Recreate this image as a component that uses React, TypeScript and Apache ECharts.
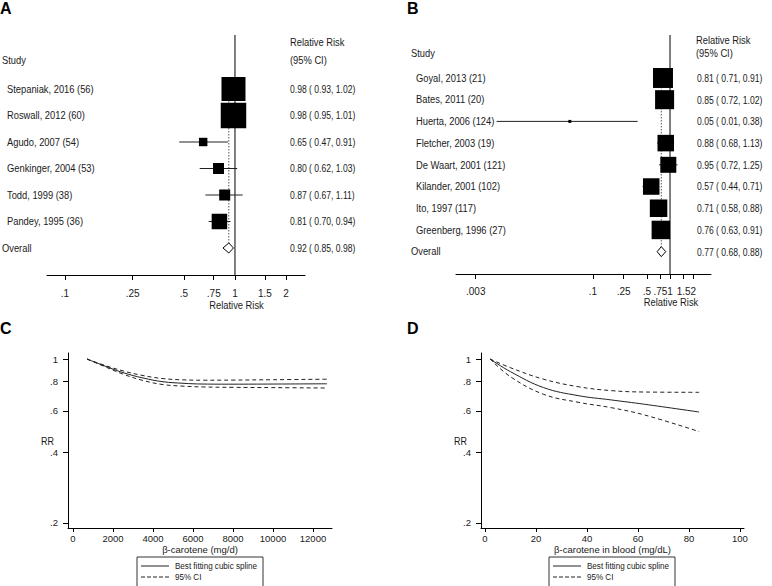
import React, { useEffect, useRef } from "react";
import * as echarts from "echarts";

// ---------- Panel A data ----------
const studiesA = [
  "Stepaniak, 2016 (56)",
  "Roswall, 2012 (60)",
  "Agudo, 2007 (54)",
  "Genkinger, 2004 (53)",
  "Todd, 1999 (38)",
  "Pandey, 1995 (36)",
];
const rrA = [0.98, 0.98, 0.65, 0.8, 0.87, 0.81];
const loA = [0.93, 0.95, 0.47, 0.62, 0.67, 0.7];
const hiA = [1.02, 1.01, 0.91, 1.03, 1.11, 0.94];
const weightA = [32.4, 36.5, 4.0, 6.8, 6.8, 13.5];
const overallA = [0.92, 0.85, 0.98];
const ticksA = [0.1, 0.25, 0.5, 0.75, 1, 1.5, 2];

// ---------- Panel B data ----------
const studiesB = [
  "Goyal, 2013 (21)",
  "Bates, 2011 (20)",
  "Huerta, 2006 (124)",
  "Fletcher, 2003 (19)",
  "De Waart, 2001 (121)",
  "Kilander, 2001 (102)",
  "Ito, 1997 (117)",
  "Greenberg, 1996 (27)",
];
const rrB = [0.81, 0.85, 0.05, 0.88, 0.95, 0.57, 0.71, 0.76];
const loB = [0.71, 0.72, 0.0056, 0.68, 0.72, 0.44, 0.58, 0.63];
const hiB = [0.91, 1.02, 0.38, 1.13, 1.25, 0.71, 0.88, 0.91];
const weightB = [18.0, 16.3, 0.4, 12.3, 11.5, 12.3, 13.8, 15.4];
const overallB = [0.77, 0.68, 0.88];
const ticksB = [0.003, 0.1, 0.25, 0.5, 0.75, 1, 1.5, 2];

// ---------- Panel C data ----------
const doseC = [700, 1500, 2500, 3500, 4500, 5500, 6500, 8000, 10000, 12700];
const rrC = [1.0, 0.94, 0.875, 0.83, 0.8, 0.788, 0.782, 0.781, 0.782, 0.784];
const upperC = [1.0, 0.945, 0.89, 0.85, 0.825, 0.815, 0.812, 0.813, 0.816, 0.82];
const lowerC = [1.0, 0.935, 0.862, 0.81, 0.778, 0.766, 0.76, 0.757, 0.755, 0.752];
const xTicksC = [0, 2000, 4000, 6000, 8000, 10000, 12000];

// ---------- Panel D data ----------
const doseD = [2, 10, 23, 36.5, 49.5, 62.6, 84];
const rrD = [1.0, 0.883, 0.755, 0.698, 0.669, 0.641, 0.594];
const upperD = [1.0, 0.918, 0.82, 0.762, 0.733, 0.723, 0.721];
const lowerD = [1.0, 0.84, 0.707, 0.654, 0.62, 0.577, 0.49];
const xTicksD = [0, 20, 40, 60, 80, 100];

const rrTicks = [0.2, 0.4, 0.6, 0.8, 1];

// ---------- helpers ----------
const FONT = '"Liberation Sans", Arial, sans-serif';
const TXT = "#1a1a1a";
const NAME_SX = 0.85;
const VAL_SX = 0.78;
const log = (v: number) => Math.log10(v);
const fmtTick = (v: number) => String(Number(Math.pow(10, v).toFixed(4))).replace(/^0\./, ".");
const fmtCI = (r: number, l: number, h: number) =>
  `${r.toFixed(2)} ( ${l.toFixed(2)}, ${h.toFixed(2)})`;

const txtStyle = (text: string, size = 11, align = "left") => ({
  text,
  fill: TXT,
  fontSize: size,
  fontFamily: FONT,
  align,
  verticalAlign: "middle",
});

const sText = (text: string, x: number, y: number, sx: number, size = 11, align = "left") => ({
  type: "text",
  x,
  y,
  scaleX: sx,
  silent: true,
  style: txtStyle(text, size, align),
});

function forestSeries(
  gi: number,
  names: string[],
  rr: number[],
  lo: number[],
  hi: number[],
  w: number[],
  overall: number[],
  k: number,
  nameX: number,
  overallX: number,
  valueX: number
) {
  const studyData = names.map((_, i) => [log(rr[i]), i, log(lo[i]), log(hi[i]), w[i]]);
  const overallRow = names.length;
  const studies = {
    type: "custom",
    xAxisIndex: gi,
    yAxisIndex: gi,
    z: 3,
    clip: false,
    silent: true,
    encode: { x: 0, y: 1 },
    data: studyData,
    renderItem: (params: any, api: any) => {
      const i = params.dataIndex;
      const row = api.value(1);
      const c = api.coord([api.value(0), row]);
      const l = api.coord([api.value(2), row]);
      const h = api.coord([api.value(3), row]);
      const s = k * Math.sqrt(api.value(4));
      return {
        type: "group",
        children: [
          {
            type: "line",
            shape: { x1: l[0], y1: c[1], x2: h[0], y2: c[1] },
            style: { stroke: "#222", lineWidth: 1 },
          },
          {
            type: "rect",
            shape: { x: c[0] - s / 2, y: c[1] - s / 2, width: s, height: s },
            style: { fill: "#000" },
          },
          sText(names[i], nameX, c[1], NAME_SX),
          sText(fmtCI(rr[i], lo[i], hi[i]), valueX, c[1], VAL_SX),
        ],
      };
    },
  };
  const ov = {
    type: "custom",
    xAxisIndex: gi,
    yAxisIndex: gi,
    z: 2,
    clip: false,
    silent: true,
    encode: { x: 0, y: 1 },
    data: [[log(overall[0]), overallRow, log(overall[1]), log(overall[2])]],
    renderItem: (params: any, api: any) => {
      const row = api.value(1);
      const c = api.coord([api.value(0), row]);
      const l = api.coord([api.value(2), row]);
      const h = api.coord([api.value(3), row]);
      const top = api.coord([api.value(0), 0]);
      const one = api.coord([0, row]);
      const cs = params.coordSys;
      const dh = 5;
      return {
        type: "group",
        children: [
          {
            type: "line",
            shape: { x1: one[0], y1: cs.y, x2: one[0], y2: cs.y + cs.height },
            style: { stroke: "#000", lineWidth: 1 },
          },
          {
            type: "line",
            shape: { x1: c[0], y1: top[1], x2: c[0], y2: c[1] - dh },
            style: { stroke: "#555", lineWidth: 1, lineDash: [1.5, 1.5] },
          },
          {
            type: "polygon",
            shape: {
              points: [
                [l[0], c[1]],
                [c[0], c[1] - dh],
                [h[0], c[1]],
                [c[0], c[1] + dh],
              ],
            },
            style: { fill: "#fff", stroke: "#000", lineWidth: 1 },
          },
          sText("Overall", overallX, c[1], NAME_SX),
          sText(fmtCI(overall[0], overall[1], overall[2]), valueX, c[1], VAL_SX),
        ],
      };
    },
  };
  return [studies, ov];
}

const lineSeries = (gi: number, name: string, xs: number[], ys: number[], dashed: boolean) => ({
  type: "line",
  name,
  xAxisIndex: gi,
  yAxisIndex: gi,
  data: xs.map((x, i) => [x, log(ys[i])]),
  showSymbol: false,
  symbol: "none",
  smooth: 0.4,
  silent: true,
  lineStyle: { color: "#222", width: 1, type: dashed ? [4, 3] : "solid" },
});

const forestX = (gi: number, min: number, max: number, ticks: number[], margin: number) => ({
  type: "value",
  gridIndex: gi,
  min,
  max,
  axisLine: { show: true, onZero: false, lineStyle: { color: "#000", width: 1 } },
  axisTick: { show: true, length: 5, customValues: ticks.map(log), lineStyle: { color: "#000" } },
  axisLabel: {
    show: true,
    customValues: ticks.map(log),
    formatter: fmtTick,
    showMinLabel: true,
    showMaxLabel: true,
    hideOverlap: false,
    margin,
    fontSize: 10,
    fontFamily: FONT,
    color: TXT,
  },
  splitLine: { show: false },
});

const splineX = (gi: number, min: number, max: number, ticks: number[], name: string) => ({
  type: "value",
  gridIndex: gi,
  min,
  max,
  name,
  nameLocation: "middle",
  nameGap: 16,
  nameTextStyle: { fontSize: 9.5, fontFamily: FONT, color: TXT },
  axisLine: { show: true, onZero: false, lineStyle: { color: "#000", width: 1 } },
  axisTick: { show: true, length: 4, customValues: ticks, lineStyle: { color: "#000" } },
  axisLabel: {
    show: true,
    customValues: ticks,
    formatter: (v: number) => String(v),
    showMinLabel: true,
    showMaxLabel: true,
    margin: 5,
    fontSize: 9.5,
    fontFamily: FONT,
    color: TXT,
  },
  splitLine: { show: false },
});

const splineY = (gi: number) => ({
  type: "value",
  gridIndex: gi,
  min: log(0.19),
  max: log(1.061),
  axisLine: { show: true, onZero: false, lineStyle: { color: "#000", width: 1 } },
  axisTick: { show: true, length: 5, customValues: rrTicks.map(log), lineStyle: { color: "#000" } },
  axisLabel: {
    show: true,
    customValues: rrTicks.map(log),
    formatter: fmtTick,
    showMinLabel: true,
    showMaxLabel: true,
    margin: 10,
    fontSize: 9.5,
    fontFamily: FONT,
    color: TXT,
  },
  splitLine: { show: false },
});

const letter = (text: string, x: number, y: number) => ({
  type: "text",
  x,
  y,
  silent: true,
  style: {
    text,
    fill: "#000",
    fontSize: 16,
    fontWeight: "bold",
    fontFamily: FONT,
    align: "left",
    verticalAlign: "middle",
  },
});

const legendBox = (x: number, y: number) => [
  {
    type: "rect",
    silent: true,
    shape: { x, y, width: 126, height: 40 },
    style: { fill: "#fff", stroke: "#333", lineWidth: 1 },
  },
  {
    type: "line",
    silent: true,
    shape: { x1: x + 4, y1: y + 9, x2: x + 32, y2: y + 9 },
    style: { stroke: "#222", lineWidth: 1 },
  },
  {
    type: "line",
    silent: true,
    shape: { x1: x + 4, y1: y + 20, x2: x + 32, y2: y + 20 },
    style: { stroke: "#222", lineWidth: 1, lineDash: [4, 2] },
  },
  sText("Best fitting cubic spline", x + 38, y + 9, 0.85, 9.5),
  sText("95% CI", x + 38, y + 20, 0.85, 9.5),
];

export default function App() {
  const ref = useRef<HTMLDivElement>(null);
  useEffect(() => {
    if (!ref.current) return;
    const chart = echarts.init(ref.current, undefined, { renderer: "svg" });
    const option: any = {
      animation: false,
      backgroundColor: "#fff",
      textStyle: { fontFamily: FONT },
      grid: [
        { left: 47, top: 35, width: 258, height: 240 },
        { left: 456, top: 35, width: 255, height: 239 },
        { left: 68, top: 353, width: 264, height: 175 },
        { left: 481, top: 353, width: 263, height: 175 },
      ],
      xAxis: [
        forestX(0, -1.106, 0.412, ticksA, 13),
        forestX(1, -2.779, 0.532, ticksB, 12),
        splineX(2, -250, 12950, xTicksC, "β-carotene (mg/d)"),
        splineX(3, -1.57, 101.6, xTicksD, "β-carotene in blood (mg/dL)"),
      ],
      yAxis: [
        { type: "value", gridIndex: 0, min: -2.038, max: 7.019, inverse: true, show: false },
        { type: "value", gridIndex: 1, min: -1.98, max: 9.03, inverse: true, show: false },
        splineY(2),
        splineY(3),
      ],
      series: [
        ...forestSeries(0, studiesA, rrA, loA, hiA, weightA, overallA, 4.22, 7, 2, 290),
        ...forestSeries(1, studiesB, rrB, loB, hiB, weightB, overallB, 4.71, 416, 411, 697),
        lineSeries(2, "Best fitting cubic spline", doseC, rrC, false),
        lineSeries(2, "95% CI", doseC, upperC, true),
        lineSeries(2, "95% CI", doseC, lowerC, true),
        lineSeries(3, "Best fitting cubic spline", doseD, rrD, false),
        lineSeries(3, "95% CI", doseD, upperD, true),
        lineSeries(3, "95% CI", doseD, lowerD, true),
      ],
      graphic: [
        letter("A", 0, 8.5),
        letter("B", 407, 8.5),
        letter("C", 0, 328.5),
        letter("D", 407, 328.5),
        sText("Study", 2, 60, NAME_SX),
        sText("Relative Risk", 290, 42, NAME_SX),
        sText("(95% CI)", 290, 60, NAME_SX),
        sText("Relative Risk", 236.5, 305, NAME_SX, 11, "center"),
        sText("Study", 411, 53, NAME_SX),
        sText("Relative Risk", 696, 40, NAME_SX),
        sText("(95% CI)", 696, 53, NAME_SX),
        sText("Relative Risk", 671, 302, NAME_SX, 11, "center"),
        sText("RR", 41, 441, 0.9, 10),
        sText("RR", 454, 441, 0.9, 10),
        ...legendBox(137, 557),
        ...legendBox(549, 557),
      ],
    };
    chart.setOption(option);
    return () => chart.dispose();
  }, []);
  return (
    <div
      ref={ref}
      style={{ position: "absolute", left: 0, top: 0, width: 772, height: 586, background: "#fff" }}
    />
  );
}
